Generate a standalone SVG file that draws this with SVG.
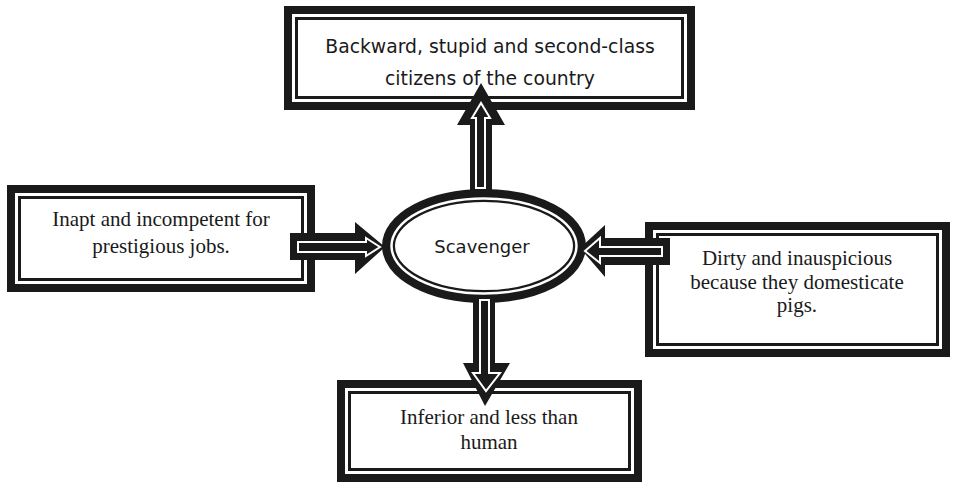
<svg xmlns="http://www.w3.org/2000/svg" width="954" height="484" viewBox="0 0 954 484">
  <style>
    .outer { fill: #ffffff; stroke: #1a1a1a; stroke-width: 14; }
    .gap { fill: none; stroke: #ffffff; stroke-width: 3; }
    .serif { font-family: "Liberation Serif", "Times New Roman", serif; font-size: 21px; fill: #1a1a1a; text-anchor: middle; }
    .sans { font-family: "DejaVu Sans", Tahoma, sans-serif; font-size: 18px; fill: #1a1a1a; text-anchor: middle; }
    .fat { fill: #1a1a1a; stroke: none; }
    .thin { fill: #1a1a1a; stroke: #ffffff; stroke-width: 2; stroke-linejoin: miter; }
  </style>
  <rect width="954" height="484" fill="#ffffff"/>

  <g id="node-top">
    <rect class="outer" x="291" y="13" width="397" height="90"/>
    <rect class="gap" x="293.5" y="15.5" width="392" height="85"/>
    <text class="sans" x="490" y="53" style="font-size:18.8px">Backward, stupid and second-class</text>
    <text class="sans" x="490" y="85" style="font-size:18.8px">citizens of the country</text>
  </g>

  <g id="node-left">
    <rect class="outer" x="14" y="192" width="294" height="93"/>
    <rect class="gap" x="16.5" y="194.5" width="289" height="88"/>
    <text class="serif" x="161" y="226">Inapt and incompetent for</text>
    <text class="serif" x="161" y="253">prestigious jobs.</text>
  </g>

  <g id="node-right">
    <rect class="outer" x="652" y="229" width="291" height="121"/>
    <rect class="gap" x="654.5" y="231.5" width="286" height="116"/>
    <text class="serif" x="797" y="265">Dirty and inauspicious</text>
    <text class="serif" x="797" y="289">because they domesticate</text>
    <text class="serif" x="797" y="312">pigs.</text>
  </g>

  <g id="node-bottom">
    <rect class="outer" x="344" y="387" width="291" height="88"/>
    <rect class="gap" x="346.5" y="389.5" width="286" height="83"/>
    <text class="serif" x="489" y="424">Inferior and less than</text>
    <text class="serif" x="489" y="449">human</text>
  </g>

  <g id="node-center">
    <ellipse cx="484" cy="246" rx="95.5" ry="50.5" fill="#ffffff" stroke="#1a1a1a" stroke-width="13"/>
    <ellipse cx="484" cy="246" rx="92.5" ry="47.5" fill="none" stroke="#ffffff" stroke-width="2.5"/>
    <text class="sans" x="482" y="253">Scavenger</text>
  </g>

  <g id="connectors">
    <polygon class="fat" points="470,197 470,125 457,125 481,83 505,125 492,125 492,197"/>
    <polygon class="thin" points="476,188 476,118 472,118 481,103 490,118 485,118 485,188"/>
    <polygon class="fat" points="290,233 355,233 355,222 385,247 355,274 355,260 290,260"/>
    <polygon class="thin" points="298,242 366,242 366,238 380,247 366,256 366,252 298,252"/>
    <polygon class="fat" points="670,238 605,238 605,225 580,248 605,277 605,265 670,265"/>
    <polygon class="thin" points="662,247 600,247 600,238 585,251 600,263 600,256 662,256"/>
    <polygon class="fat" points="473,295 473,363 463,363 485,406 510,363 495,363 495,295"/>
    <polygon class="thin" points="480,300 480,373 473,373 486,391 500,373 489,373 489,300"/>
  </g>
</svg>
